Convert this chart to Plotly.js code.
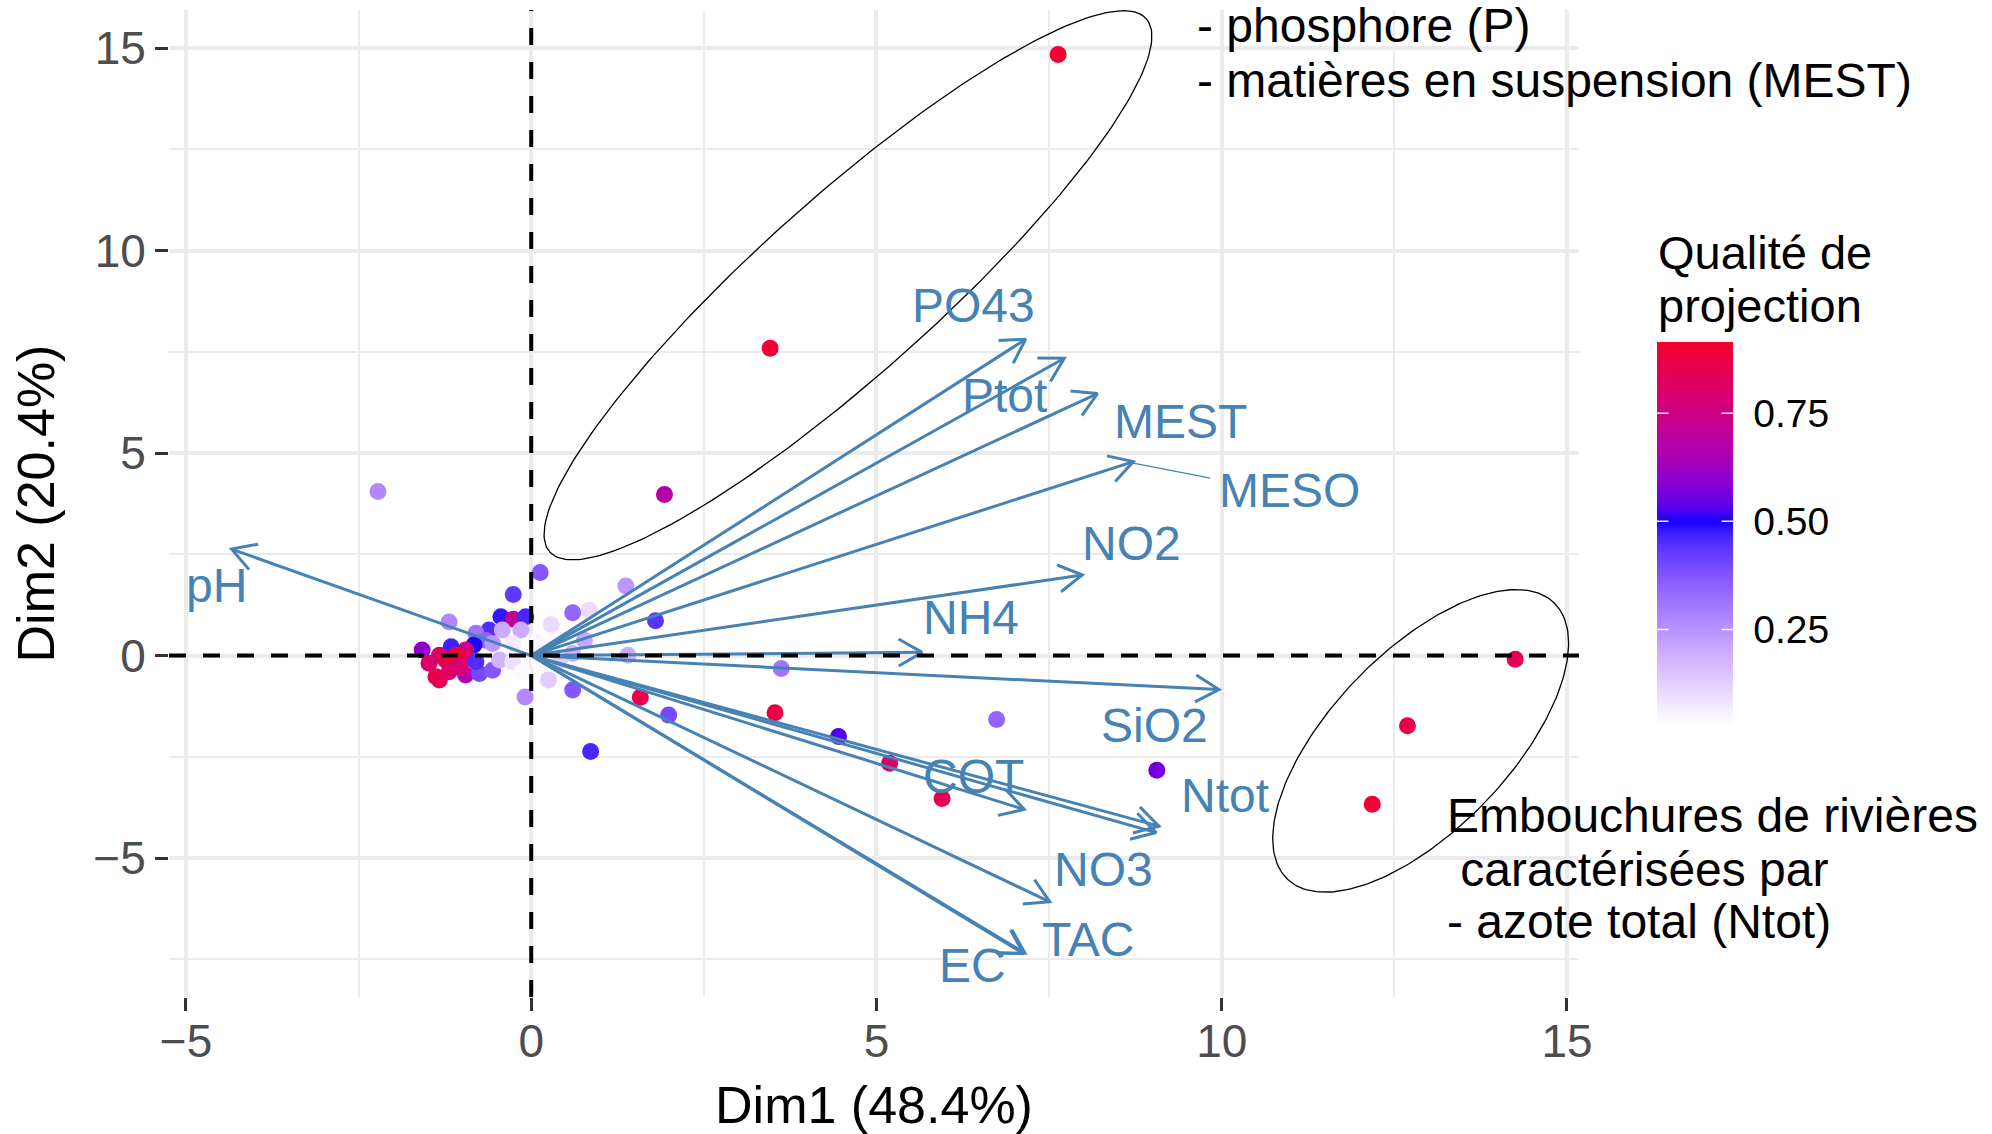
<!DOCTYPE html>
<html>
<head>
<meta charset="utf-8">
<script src="https://cdn.plot.ly/plotly-3.0.1.min.js"></script>
<style>html,body{margin:0;padding:0;background:#fff;}#chart{width:1992px;height:1134px;}</style>
</head>
<body>
<div id="chart"></div>
<script>
// ---------- Individuals (coordinates on Dim1 / Dim2, quality of projection cos2) ----------
const indX = [7.63, 3.46, 1.93, -2.22, 14.25, 12.69, 12.18, 9.06, 6.74, 5.95, 5.19, 4.45, 3.53, 3.62, 1.99, 1.58, 0.86, 1.80, 1.37, 0.13, -0.26, -1.19, -1.58, 0.84, 0.60, 0.29, -0.44, -0.26, -0.08, -0.61, -0.80, -0.42, -0.15, -0.66, -0.83, -0.56, -0.27, 0.07, -1.16, -1.33, -1.24, -0.95, -0.92, -1.09, -1.38, -1.19, -0.95, -0.75, -0.56, -0.46, -0.27, -0.13, 0.12, 0.41, 0.60, 0.77, 1.40, 0.25, 0.60, -0.09, -1.33, -1.48, -1.04, -0.80];
const indY = [14.84, 7.59, 3.98, 4.05, -0.09, -1.73, -3.67, -2.83, -1.58, -3.53, -2.66, -2.00, -1.41, -0.32, -1.47, -1.03, -2.37, 0.86, 1.72, 2.05, 1.51, 0.83, 0.14, 1.12, 1.06, 0.77, 0.96, 0.90, 0.96, 0.63, 0.55, 0.63, 0.63, 0.38, 0.26, 0.30, 0.30, 0.34, 0.22, 0.01, -0.11, 0.14, -0.07, 0.01, -0.52, -0.40, -0.48, -0.44, -0.36, -0.11, -0.15, -0.40, -0.19, -0.11, 0.05, 0.38, 0.01, -0.60, -0.85, -1.02, -0.60, -0.19, -0.28, -0.15];
const indCos2 = [0.91, 0.90, 0.67, 0.27, 0.84, 0.87, 0.90, 0.56, 0.34, 0.85, 0.80, 0.53, 0.87, 0.31, 0.40, 0.87, 0.46, 0.44, 0.24, 0.37, 0.43, 0.27, 0.60, 0.10, 0.34, 0.10, 0.48, 0.72, 0.46, 0.45, 0.31, 0.20, 0.20, 0.35, 0.50, 0.24, 0.07, 0.05, 0.47, 0.79, 0.87, 0.75, 0.84, 0.90, 0.86, 0.80, 0.67, 0.40, 0.37, 0.18, 0.09, 0.04, 0.04, 0.13, 0.19, 0.21, 0.20, 0.13, 0.37, 0.27, 0.85, 0.80, 0.78, 0.45];

// ---------- Variables (arrow tips) ----------
const varNames = ['pH', 'PO43', 'Ptot', 'MEST', 'MESO', 'NO2', 'NH4', 'SiO2', 'COT', 'Ntot', '', 'NO3', 'TAC', 'EC'];
const varX = [-4.34, 7.16, 7.72, 8.20, 8.72, 7.98, 5.66, 9.96, 7.14, 9.09, 9.05, 7.51, 7.15, 7.13];
const varY = [2.63, 7.81, 7.34, 6.47, 4.79, 1.99, 0.08, -0.84, -3.80, -4.21, -4.37, -6.08, -7.35, -7.36];
// repelled label positions
const labelX = [-4.56, 6.41, 6.85, 9.40, 10.98, 8.69, 6.37, 9.03, 6.41, 10.04, null, 8.29, 8.07, 6.39];
const labelY = [1.72, 8.65, 6.41, 5.79, 4.08, 2.77, 0.94, -1.72, -2.99, -3.46, null, -5.28, -7.02, -7.64];

// ---------- Texts ----------
const xTitle = 'Dim1 (48.4%)';
const yTitle = 'Dim2 (20.4%)';
const legendTitle = ['Qualité de', 'projection'];
const noteTop = ['- phosphore (P)', '- matières en suspension (MEST)'];
const noteRight = ['Embouchures de rivières', '\u00a0caractérisées par', '- azote total (Ntot)'];
const cbTickVals = [0.25, 0.50, 0.75];
const cbTickText = ['0.25', '0.50', '0.75'];

// ---------- Layout geometry ----------
const W = 1992, H = 1134;
const M = {l: 169, r: 413, t: 10, b: 137};
const plotW = W - M.l - M.r, plotH = H - M.t - M.b;
const xRange = [-5.246, 15.174];
const yRange = [-8.43, 15.94];
const kx = plotW / (xRange[1] - xRange[0]);
const ky = plotH / (yRange[1] - yRange[0]);
const FONT = 'Liberation Sans, Arial, sans-serif';
const STEEL = '#4682B4';

// ---------- Colour scale (white - blue - red, Lab interpolation, midpoint 0.5) ----------
const cmin = 0.0285, cmax = 0.914;
function toLin(c){c/=255;return c<=0.04045?c/12.92:Math.pow((c+0.055)/1.055,2.4);}
function toS(c){c=c<=0.0031308?12.92*c:1.055*Math.pow(Math.max(c,0),1/2.4)-0.055;return Math.max(0,Math.min(255,Math.round(c*255)));}
const WP=[0.95047,1,1.08883];
function rgb2lab(rgb){const [r,g,b]=rgb.map(toLin);
  const X=(0.4124564*r+0.3575761*g+0.1804375*b)/WP[0];
  const Y=(0.2126729*r+0.7151522*g+0.0721750*b)/WP[1];
  const Z=(0.0193339*r+0.1191920*g+0.9503041*b)/WP[2];
  const f=t=>t>0.008856?Math.cbrt(t):7.787*t+16/116;
  const fx=f(X),fy=f(Y),fz=f(Z);
  return [116*fy-16,500*(fx-fy),200*(fy-fz)];}
function lab2rgb(lab){const [L,a,bb]=lab;const fy=(L+16)/116,fx=fy+a/500,fz=fy-bb/200;
  const fi=t=>t>0.206893?t*t*t:(t-16/116)/7.787;
  const X=fi(fx)*WP[0],Y=fi(fy)*WP[1],Z=fi(fz)*WP[2];
  const r=3.2404542*X-1.5371385*Y-0.4985314*Z;
  const g=-0.9692660*X+1.8760108*Y+0.0415560*Z;
  const b=0.0556434*X-0.2040259*Y+1.0572252*Z;
  return [toS(r),toS(g),toS(b)];}
const LO=rgb2lab([255,255,255]), MI=rgb2lab([0,0,255]), HI=rgb2lab([255,0,0]);
const half = Math.max(0.5-cmin, cmax-0.5);
function colorFor(v){const g=(v-0.5)/half/2+0.5;let A,B,t;
  if(g<0.5){A=LO;B=MI;t=g/0.5;}else{A=MI;B=HI;t=(g-0.5)/0.5;}
  t=Math.max(0,Math.min(1,t));
  const c=lab2rgb(A.map((x,i)=>x+(B[i]-x)*t));return 'rgb('+c.join(',')+')';}
const colorscale=[];
for(let i=0;i<=80;i++){const t=i/80;colorscale.push([t,colorFor(cmin+t*(cmax-cmin))]);}

// colour bar geometry (pixels)
const CB = {left:1657, thick:76, centerY:533.7, len:383};

// ---------- Traces ----------
const points = {
  type:'scatter', mode:'markers', x:indX, y:indY, hoverinfo:'skip',
  marker:{size:17, color:indCos2, colorscale:colorscale, cmin:cmin, cmax:cmax, line:{width:0},
    showscale:true,
    colorbar:{thickness:CB.thick, thicknessmode:'pixels', len:CB.len, lenmode:'pixels',
      x:(CB.left-M.l)/plotW, xanchor:'left', xpad:0, y:(H-M.b-CB.centerY)/plotH, yanchor:'middle', ypad:0,
      outlinewidth:0, ticks:'outside', ticklen:13, tickwidth:1, tickcolor:'#ffffff',
      tickvals:cbTickVals, ticktext:cbTickText, tickfont:{family:FONT, size:39, color:'#000'},
      title:{text:''}}},
  showlegend:false
};

// arrows: shafts + open heads computed in pixel space
const HEAD = 27, ANG = 30*Math.PI/180;
const ax = [], ay = [];
for (let i=0;i<varX.length;i++){
  ax.push(0, varX[i], null); ay.push(0, varY[i], null);
  const px=varX[i]*kx, py=varY[i]*ky, L=Math.hypot(px,py);
  const ux=-px/L, uy=-py/L;
  const h=[];
  for (const s of [1,-1]){
    const c=Math.cos(s*ANG), sn=Math.sin(s*ANG);
    const rx=ux*c-uy*sn, ry=ux*sn+uy*c;
    h.push([varX[i]+HEAD*rx/kx, varY[i]+HEAD*ry/ky]);
  }
  ax.push(h[0][0], varX[i], h[1][0], null);
  ay.push(h[0][1], varY[i], h[1][1], null);
}
const arrows = {type:'scatter', mode:'lines', x:ax, y:ay, hoverinfo:'skip', showlegend:false,
  line:{color:STEEL, width:3}, connectgaps:false};

// repel segment for MESO label
const iMESO = varNames.indexOf('MESO');
const seg = {type:'scatter', mode:'lines', hoverinfo:'skip', showlegend:false,
  x:[varX[iMESO], varX[iMESO] + 77/kx], y:[varY[iMESO]-0.04, varY[iMESO]-0.04-15/ky],
  line:{color:STEEL, width:1.2}};

// hand-drawn ellipses (centre in data units, semi-axes in pixels, rotation in degrees)
const ellipses = [
  {cx:4.587, cy:9.143, a:400, b:88, ang:41.8},
  {cx:12.881, cy:-2.106, a:192, b:89, ang:46}
];
const ellTraces = ellipses.map(e=>{
  const th=e.ang*Math.PI/180, xs=[], ys=[];
  for(let k=0;k<=240;k++){const t=2*Math.PI*k/240;
    const ex=e.a*Math.cos(t), ey=e.b*Math.sin(t);
    const px=ex*Math.cos(th)-ey*Math.sin(th), py=ex*Math.sin(th)+ey*Math.cos(th);
    xs.push(e.cx+px/kx); ys.push(e.cy+py/ky);}
  return {type:'scatter', mode:'lines', x:xs, y:ys, hoverinfo:'skip', showlegend:false,
    line:{color:'#000', width:1.3}};
});

// ---------- Annotations ----------
const annotations = [];
varNames.forEach((n,i)=>{
  if(!n || labelX[i]===null) return;
  annotations.push({x:labelX[i], y:labelY[i], xref:'x', yref:'y', text:n, showarrow:false,
    xanchor:'center', yanchor:'middle', font:{family:FONT, size:48, color:STEEL}});
});
const topY=[15.56, 14.21];
noteTop.forEach((t,i)=>annotations.push({x:9.61, y:topY[i], xref:'x', yref:'y', text:t, showarrow:false,
  xanchor:'left', yanchor:'middle', font:{family:FONT, size:48, color:'#000'}}));
const rightY=[-3.94, -5.27, -6.56];
noteRight.forEach((t,i)=>annotations.push({x:13.24, y:rightY[i], xref:'x', yref:'y', text:t, showarrow:false,
  xanchor:'left', yanchor:'middle', font:{family:FONT, size:48, color:'#000'}}));
const legY=[252, 305.4];
legendTitle.forEach((t,i)=>annotations.push({x:(1656-M.l)/plotW, y:(H-M.b-legY[i])/plotH, xref:'paper', yref:'paper',
  text:t, showarrow:false, xanchor:'left', yanchor:'middle', font:{family:FONT, size:47, color:'#000'}}));
// white tick marks inside both edges of the colour bar
cbTickVals.forEach(v=>{
  const pixY = CB.centerY - CB.len/2 + (cmax - v)/(cmax - cmin)*CB.len;
  const py = (H - M.b - pixY)/plotH;
  [[CB.left, 13], [CB.left + CB.thick, -13]].forEach(([px, off])=>{
    annotations.push({x:(px-M.l)/plotW, y:py, xref:'paper', yref:'paper', text:'', showarrow:true,
      arrowhead:0, arrowwidth:1.5, arrowcolor:'#ffffff', ax:off, ay:0, standoff:0, startstandoff:0});
  });
});

// ---------- Layout ----------
const axisCommon = {
  showgrid:true, gridcolor:'#ebebeb', gridwidth:4, zeroline:false, showline:false,
  ticks:'outside', ticklen:13, tickwidth:3, tickcolor:'#333333',
  tickfont:{family:FONT, size:46, color:'#4d4d4d'},
  tick0:0, dtick:5,
  minor:{tick0:0, dtick:2.5, showgrid:true, gridcolor:'#ebebeb', gridwidth:2}
};
const layout = {
  width:W, height:H, margin:M, paper_bgcolor:'#fff', plot_bgcolor:'#fff',
  font:{family:FONT},
  showlegend:false, hovermode:false,
  xaxis:Object.assign({}, axisCommon, {range:xRange, autorange:false, ticklabelstandoff:-9,
    title:{text:xTitle, font:{family:FONT, size:52, color:'#000'}, standoff:21}}),
  yaxis:Object.assign({}, axisCommon, {range:yRange, autorange:false,
    title:{text:yTitle, font:{family:FONT, size:52, color:'#000'}, standoff:22}}),
  shapes:[
    {type:'line', xref:'x', yref:'paper', x0:0, x1:0, y0:0, y1:1, layer:'above', line:{color:'#000', width:4, dash:'17px,17px'}},
    {type:'line', xref:'paper', yref:'y', x0:0, x1:1, y0:0, y1:0, layer:'above', line:{color:'#000', width:4, dash:'17px,17px'}}
  ],
  annotations:annotations
};

Plotly.newPlot('chart', [points, arrows, seg].concat(ellTraces), layout, {displayModeBar:false, staticPlot:true});
</script>
</body>
</html>
